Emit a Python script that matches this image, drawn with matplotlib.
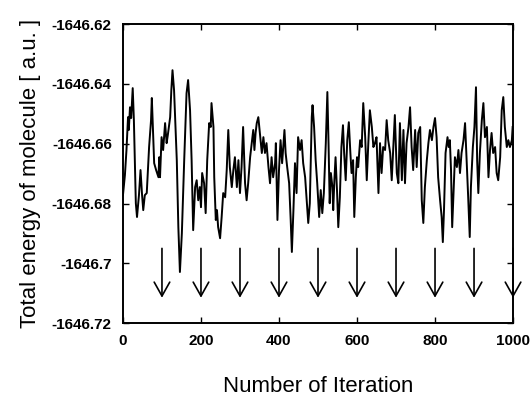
import numpy as np
import matplotlib.pyplot as plt
from matplotlib.ticker import FuncFormatter, MultipleLocator

plt.rcParams['font.family'] = ['Liberation Sans', 'DejaVu Sans']

# iteration number and total energy
iteration = [
    0, 5, 9, 13, 15, 18, 21, 25, 28, 31, 33, 36, 41, 45, 49, 52, 56, 61, 64, 67,
    72, 74, 77, 80, 85, 91, 93, 95, 99, 103, 108, 112, 115, 121, 124, 127, 131, 133, 138, 142,
    146, 151, 157, 163, 167, 172, 176, 180, 185, 189, 193, 197, 200, 203, 208, 212, 216, 221, 225, 227,
    232, 234, 238, 241, 244, 249, 253, 257, 262, 266, 270, 274, 279, 283, 287, 292, 296, 300, 304, 308,
    313, 317, 321, 326, 330, 334, 337, 340, 343, 347, 351, 356, 360, 364, 368, 373, 377, 381, 385, 390,
    392, 396, 400, 404, 408, 414, 417, 421, 426, 430, 433, 437, 441, 445, 449, 454, 458, 462, 467, 471,
    475, 479, 484, 486, 490, 494, 498, 503, 507, 511, 515, 520, 524, 527, 530, 533, 537, 539, 542, 545,
    549, 552, 556, 560, 564, 567, 571, 575, 579, 583, 586, 590, 593, 597, 600, 603, 608, 612, 616, 621,
    625, 629, 633, 638, 642, 646, 650, 655, 659, 663, 667, 672, 676, 680, 685, 689, 693, 697, 702, 706,
    710, 715, 719, 723, 727, 732, 736, 740, 744, 749, 753, 757, 762, 766, 770, 774, 779, 783, 787, 792,
    796, 800, 804, 808, 813, 817, 820, 823, 827, 832, 835, 838, 841, 844, 848, 851, 856, 860, 864, 868,
    873, 877, 881, 885, 889, 892, 897, 901, 905, 908, 911, 915, 920, 924, 928, 933, 937, 941, 945, 949,
    954, 958, 962, 967, 971, 975, 979, 984, 988, 992, 997, 999,
]
energy = [
    -1646.6772, -1646.6705, -1646.6621, -1646.6511, -1646.6554, -1646.6478, -1646.6514, -1646.6414, -1646.6521, -1646.6688,
    -1646.6799, -1646.6845, -1646.6772, -1646.6688, -1646.6772, -1646.6822, -1646.6772, -1646.6765, -1646.6688, -1646.6611,
    -1646.6521, -1646.6447, -1646.6554, -1646.6665, -1646.6688, -1646.6712, -1646.6645, -1646.6712, -1646.6578, -1646.6621,
    -1646.6531, -1646.6598, -1646.6571, -1646.6511, -1646.6421, -1646.6354, -1646.6421, -1646.6488, -1646.6655, -1646.6879,
    -1646.7029, -1646.6899, -1646.6655, -1646.6431, -1646.6387, -1646.6488, -1646.6655, -1646.6889, -1646.6745, -1646.6722,
    -1646.6789, -1646.6745, -1646.6812, -1646.6698, -1646.6732, -1646.6832, -1646.6655, -1646.6531, -1646.6544, -1646.6464,
    -1646.6544, -1646.6712, -1646.6855, -1646.6822, -1646.6879, -1646.6916, -1646.6845, -1646.6765, -1646.6779, -1646.6688,
    -1646.6554, -1646.6678, -1646.6745, -1646.6688, -1646.6645, -1646.6745, -1646.6655, -1646.6765, -1646.6678, -1646.6544,
    -1646.6732, -1646.6789, -1646.6732, -1646.6645, -1646.6598, -1646.6554, -1646.6621, -1646.6564, -1646.6531, -1646.6511,
    -1646.6564, -1646.6631, -1646.6578, -1646.6631, -1646.6598, -1646.6678, -1646.6732, -1646.6645, -1646.6712, -1646.6665,
    -1646.6598, -1646.6855, -1646.6688, -1646.6588, -1646.6665, -1646.6554, -1646.6631, -1646.6678, -1646.6732, -1646.6855,
    -1646.6962, -1646.6822, -1646.6665, -1646.6765, -1646.6578, -1646.6621, -1646.6588, -1646.6665, -1646.6712, -1646.6789,
    -1646.6865, -1646.6799, -1646.6511, -1646.6471, -1646.6544, -1646.6655, -1646.6732, -1646.6845, -1646.6755, -1646.6832,
    -1646.6765, -1646.6598, -1646.6427, -1646.6598, -1646.6799, -1646.6698, -1646.6745, -1646.6822, -1646.6722, -1646.6645,
    -1646.6765, -1646.6879, -1646.6779, -1646.6611, -1646.6538, -1646.6631, -1646.6722, -1646.6588, -1646.6528, -1646.6631,
    -1646.6698, -1646.6655, -1646.6845, -1646.6712, -1646.6645, -1646.6678, -1646.6588, -1646.6611, -1646.6464, -1646.6578,
    -1646.6722, -1646.6598, -1646.6488, -1646.6544, -1646.6611, -1646.6598, -1646.6578, -1646.6765, -1646.6598, -1646.6698,
    -1646.6611, -1646.6621, -1646.6521, -1646.6588, -1646.6631, -1646.6722, -1646.6611, -1646.6504, -1646.6698, -1646.6732,
    -1646.6531, -1646.6722, -1646.6554, -1646.6732, -1646.6598, -1646.6544, -1646.6478, -1646.6611, -1646.6688, -1646.6554,
    -1646.6678, -1646.6564, -1646.6544, -1646.6789, -1646.6865, -1646.6745, -1646.6655, -1646.6598, -1646.6554, -1646.6588,
    -1646.6544, -1646.6514, -1646.6578, -1646.6712, -1646.6789, -1646.6845, -1646.6929, -1646.6822, -1646.6631, -1646.6578,
    -1646.6611, -1646.6588, -1646.6688, -1646.6879, -1646.6745, -1646.6645, -1646.6678, -1646.6621, -1646.6698, -1646.6631,
    -1646.6588, -1646.6531, -1646.6655, -1646.6779, -1646.6912, -1646.6745, -1646.6611, -1646.6544, -1646.6411, -1646.6655,
    -1646.6765, -1646.6631, -1646.6521, -1646.6464, -1646.6578, -1646.6544, -1646.6712, -1646.6621, -1646.6564, -1646.6631,
    -1646.6611, -1646.6698, -1646.6722, -1646.6645, -1646.6488, -1646.6444, -1646.6544, -1646.6611, -1646.6588, -1646.6611,
    -1646.6588, -1646.6544,
]

# arrows marking every 100 iterations
arrow_x = [100, 200, 300, 400, 500, 600, 700, 800, 900, 1000]
arrow_top = -1646.695
arrow_bottom = -1646.7115

fig = plt.figure(figsize=(5.3, 3.96), dpi=100)
ax = fig.add_axes([0.232, 0.184, 0.736, 0.755])

ax.plot(iteration, energy, color='black', lw=1.4)

for xa in arrow_x:
    ax.annotate('', xy=(xa, arrow_bottom), xytext=(xa, arrow_top),
                arrowprops=dict(arrowstyle='->, head_length=0.5, head_width=0.28',
                                mutation_scale=20, color='black', lw=1.2,
                                shrinkA=0, shrinkB=0),
                annotation_clip=False)

ax.set_xlim(0, 1000)
ax.set_ylim(-1646.72, -1646.62)
ax.xaxis.set_major_locator(MultipleLocator(200))
ax.yaxis.set_major_locator(MultipleLocator(0.02))
ax.yaxis.set_major_formatter(FuncFormatter(lambda v, p: '%g' % round(v, 4)))
ax.tick_params(direction='in', top=True, right=True, length=4, width=1,
               labelsize=11, pad=8)
for lab in ax.get_xticklabels() + ax.get_yticklabels():
    lab.set_fontweight('bold')
for s in ax.spines.values():
    s.set_linewidth(1.4)

ax.set_xlabel('Number of Iteration', fontsize=16, labelpad=20)
ax.set_ylabel('Total energy of molecule [ a.u. ]', fontsize=16, labelpad=8)

fig.savefig('out.png', dpi=100)
